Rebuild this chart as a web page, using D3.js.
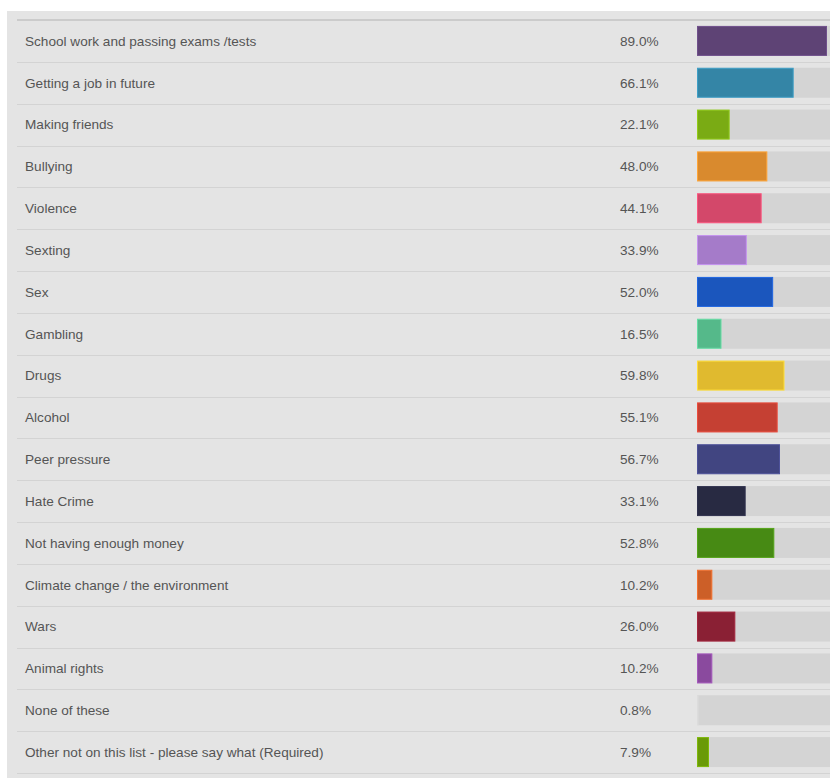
<!DOCTYPE html>
<html>
<head>
<meta charset="utf-8">
<script src="https://cdn.jsdelivr.net/npm/d3@7"></script>
<style>
  html, body { margin: 0; padding: 0; background: #ffffff; }
  svg { display: block; }
</style>
</head>
<body>
<svg id="chart" width="830" height="778"></svg>
<script>
// Survey answers, share of respondents (%) and the colour of each bar
const categories = [
  "School work and passing exams /tests",
  "Getting a job in future",
  "Making friends",
  "Bullying",
  "Violence",
  "Sexting",
  "Sex",
  "Gambling",
  "Drugs",
  "Alcohol",
  "Peer pressure",
  "Hate Crime",
  "Not having enough money",
  "Climate change / the environment",
  "Wars",
  "Animal rights",
  "None of these",
  "Other not on this list - please say what (Required)"
];
const percentages = [89.0, 66.1, 22.1, 48.0, 44.1, 33.9, 52.0, 16.5, 59.8, 55.1, 56.7, 33.1, 52.8, 10.2, 26.0, 10.2, 0.8, 7.9];
const barColors = [
  "#5e4375", "#3485a6", "#7aab14", "#d98a2e", "#d3486a", "#a57bc9",
  "#1b56bd", "#55b98a", "#e0ba2f", "#c54033", "#414581", "#282a42",
  "#478a14", "#cc5f28", "#8a2034", "#8a4a9e", "#b8b8b8", "#6a9a08"
];

const rows = categories.map((c, i) => ({ label: c, value: percentages[i], color: barColors[i] }));

const svg = d3.select("#chart");

// grey panel behind the table
svg.append("rect")
  .attr("x", 7).attr("y", 11)
  .attr("width", 823).attr("height", 767)
  .attr("fill", "#e4e4e4");

const y = d3.scaleBand()
  .domain(categories)
  .range([20, 773])
  .paddingInner(0).paddingOuter(0);

const x = d3.scaleLinear()
  .domain([0, 100])
  .range([697.5, 843]);

const barH = 30;
const lineX0 = 17;

// heavier rule above the first row
svg.append("rect")
  .attr("x", lineX0).attr("y", 19)
  .attr("width", 830 - lineX0).attr("height", 2)
  .attr("fill", "#cbcbcb");

// thin separators under each row
svg.append("g").selectAll("line")
  .data(categories)
  .join("line")
  .attr("x1", lineX0).attr("x2", 830)
  .attr("y1", d => Math.round(y(d) + y.bandwidth()) + 0.5)
  .attr("y2", d => Math.round(y(d) + y.bandwidth()) + 0.5)
  .attr("stroke", "#d3d3d3")
  .attr("stroke-width", 1);

const row = svg.append("g").selectAll("g")
  .data(rows)
  .join("g")
  .attr("transform", d => `translate(0,${y(d.label) + y.bandwidth() / 2})`);

const textStyle = sel => sel
  .attr("font-family", "'Liberation Sans', Arial, Helvetica, sans-serif")
  .attr("font-size", 13.6)
  .attr("fill", "#555555")
  .attr("dy", "0.35em");

row.append("text")
  .attr("x", 25)
  .call(textStyle)
  .text(d => d.label);

row.append("text")
  .attr("x", 620)
  .call(textStyle)
  .text(d => d3.format(".1f")(d.value) + "%");

// full-width track
row.append("rect")
  .attr("x", x(0))
  .attr("y", -barH / 2)
  .attr("width", x(100) - x(0))
  .attr("height", barH)
  .attr("fill", "#d4d4d4");

// value bar with a slightly lighter edge
row.append("rect")
  .attr("x", x(0))
  .attr("y", -barH / 2 + 0.5)
  .attr("width", d => Math.max(0, x(d.value) - x(0) - 0.5))
  .attr("height", barH - 1)
  .attr("fill", d => d.color)
  .attr("stroke", d => d3.color(d.color).brighter(0.5))
  .attr("stroke-width", 1);
</script>
</body>
</html>
